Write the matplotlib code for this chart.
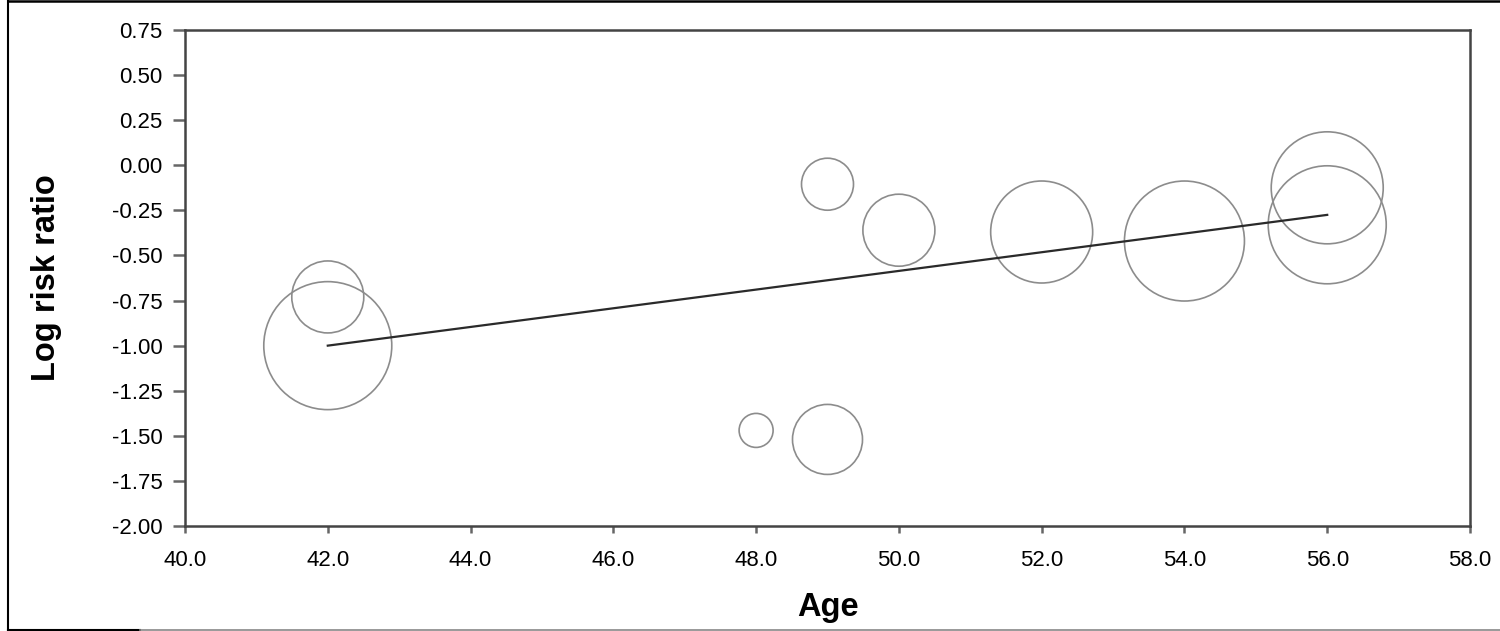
import numpy as np
import matplotlib.pyplot as plt
from matplotlib.lines import Line2D

plt.rcParams['font.family'] = ['Liberation Sans', 'DejaVu Sans']

# study data
age = [42, 42, 48, 49, 49, 50, 52, 54, 56, 56]
log_rr = [-1.00, -0.73, -1.47, -1.52, -0.105, -0.36, -0.37, -0.42, -0.125, -0.33]
weight = [64, 36, 17, 35, 26, 36, 51, 60, 56, 59]   # bubble radius, px

# meta-regression line
fit_age = [42, 56]
fit_rr = [-1.00, -0.275]

x_ticks = np.arange(40, 58.1, 2)
y_ticks = np.arange(-2.0, 0.76, 0.25)

fig = plt.figure(figsize=(15, 6.31), dpi=100)
ax = fig.add_axes([185/1500, 1-526/631, 1285/1500, 496/631])

# bubble radius (px) -> scatter area (pt^2)
sizes = [(2 * r * 0.72) ** 2 for r in weight]
ax.scatter(age, log_rr, s=sizes, facecolors='none', edgecolors='#8c8c8c',
           linewidths=1.2, zorder=2)
ax.plot(fit_age, fit_rr, color='#2a2a2a', lw=1.6, zorder=3)

ax.set_xlim(40, 58)
ax.set_ylim(-2.0, 0.75)
ax.set_xticks(x_ticks)
ax.set_xticklabels([f"{v:.1f}" for v in x_ticks])
ax.set_yticks(y_ticks)
ax.set_yticklabels([f"{v:.2f}" for v in y_ticks])

for s in ax.spines.values():
    s.set_color('#444444')
    s.set_linewidth(1.8)

ax.tick_params(axis='y', direction='out', length=9, width=1.8, color='#666666',
               labelsize=16, pad=7)
ax.tick_params(axis='x', direction='out', length=5, width=1.8, color='#666666',
               labelsize=16, pad=12)

ax.set_xlabel("Age", fontsize=23.5, fontweight='bold')
ax.set_ylabel("Log risk ratio", fontsize=23.5, fontweight='bold')
ax.xaxis.set_label_coords(0.5, -0.134)
ax.yaxis.set_label_coords(-0.096, 0.5)

# outer frame of the figure
fig.add_artist(Line2D([8/1500, 8/1500], [0.5/631, 1-1/631], transform=fig.transFigure,
                      color='black', lw=1.5))
fig.add_artist(Line2D([8/1500, 1], [1-1/631, 1-1/631], transform=fig.transFigure,
                      color='black', lw=1.8))
fig.add_artist(Line2D([8/1500, 140/1500], [1/631, 1/631], transform=fig.transFigure,
                      color='black', lw=1.5))
fig.add_artist(Line2D([140/1500, 1], [1/631, 1/631], transform=fig.transFigure,
                      color='#888888', lw=1.2))

fig.savefig("out.png", dpi=100)
